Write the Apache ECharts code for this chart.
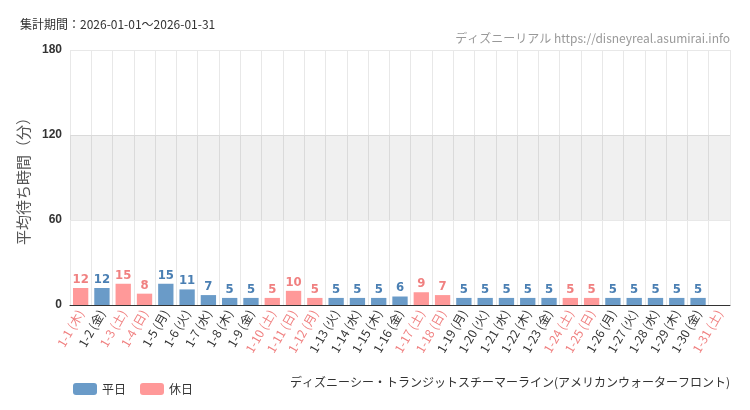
<!DOCTYPE html>
<html><head><meta charset="utf-8">
<script src="https://cdn.jsdelivr.net/npm/echarts@6/dist/echarts.min.js"></script>
<style>html,body{margin:0;padding:0;background:#fff}#c{width:750px;height:410px}</style>
</head><body><div id="c"></div>
<script>
const categories=['1-1 (木)','1-2 (金)','1-3 (土)','1-4 (日)','1-5 (月)','1-6 (火)','1-7 (水)','1-8 (木)','1-9 (金)','1-10 (土)','1-11 (日)','1-12 (月)','1-13 (火)','1-14 (水)','1-15 (木)','1-16 (金)','1-17 (土)','1-18 (日)','1-19 (月)','1-20 (火)','1-21 (水)','1-22 (木)','1-23 (金)','1-24 (土)','1-25 (日)','1-26 (月)','1-27 (火)','1-28 (水)','1-29 (木)','1-30 (金)','1-31 (土)'];
const holiday=[1,0,1,1,0,0,0,0,0,1,1,1,0,0,0,0,1,1,0,0,0,0,0,1,1,0,0,0,0,0,1];
const values=[12,12,15,8,15,11,7,5,5,5,10,5,5,5,5,6,9,7,5,5,5,5,5,5,5,5,5,5,5,5,null];
const yTicks=[0,60,120,180];
const weekday=values.map((v,i)=>holiday[i]?null:v);
const hol=values.map((v,i)=>holiday[i]?v:null);
const BLUE='#6a9bc8',PINK='#ff9999',PINKT='#f08080',BLUET='#4a7fb3';
const lbl=c=>({show:true,position:'top',color:c,fontFamily:'DejaVu Sans Condensed',fontWeight:'bold',fontSize:13,distance:2});
const chart=echarts.init(document.getElementById('c'));
chart.setOption({
  animation:false,
  graphic:[
    {type:'text',left:20,top:18,style:{text:'集計期間：2026-01-01～2026-01-31',fill:'#333',font:'12px "Noto Sans CJK JP"'}},
    {type:'text',right:20,top:32,style:{text:'ディズニーリアル https://disneyreal.asumirai.info',fill:'#999',font:'12px "Noto Sans CJK JP"'}},
    {type:'text',right:20,top:376,style:{text:'ディズニーシー・トランジットスチーマーライン(アメリカンウォーターフロント)',fill:'#333',font:'12px "Noto Sans CJK JP"'}}
  ],
  legend:{left:68,top:378,itemWidth:24,itemHeight:12,itemGap:14,textStyle:{fontSize:12,color:'#333',fontFamily:'Noto Sans CJK JP'},data:['平日','休日']},
  grid:{left:70,right:20,top:50,bottom:105,containLabel:false},
  xAxis:{type:'category',data:categories,axisTick:{show:false},axisLine:{lineStyle:{color:'#333'}},
    splitLine:{show:true,lineStyle:{color:'#e8e8e8'}},
    axisLabel:{interval:0,rotate:60,fontSize:12,fontFamily:'Noto Sans CJK JP',margin:6,
      color:(v,i)=>holiday[i]?PINKT:'#333'}},
  yAxis:{type:'value',min:0,max:180,interval:60,name:'平均待ち時間（分）',nameLocation:'middle',nameGap:38,
    nameTextStyle:{fontSize:15,color:'#555',fontFamily:'Noto Sans CJK JP'},
    axisLabel:{fontWeight:'bold',color:'#333',fontSize:12,formatter:v=>yTicks.includes(v)?String(v):''},
    splitLine:{lineStyle:{color:'#e8e8e8'}},axisLine:{show:false},axisTick:{show:false}},
  series:[
    {name:'平日',type:'bar',stack:'a',data:weekday,itemStyle:{color:BLUE},barWidth:'72%',label:lbl(BLUET),
     markArea:{silent:true,itemStyle:{color:'rgba(0,0,0,0.06)'},data:[[{yAxis:60},{yAxis:120}]]}},
    {name:'休日',type:'bar',stack:'a',data:hol,itemStyle:{color:PINK},barWidth:'72%',label:lbl(PINKT)}
  ]
});
</script></body></html>
